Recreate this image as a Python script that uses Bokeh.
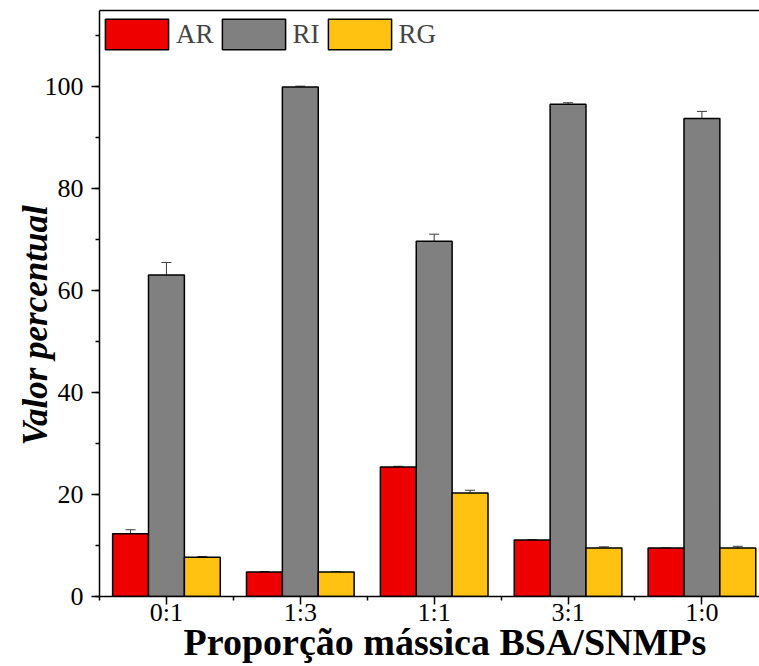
from bokeh.plotting import figure
from bokeh.models import (ColumnDataSource, Whisker, TeeHead, FixedTicker, SingleIntervalTicker,
                          LinearAxis, Range1d, Legend, LegendItem, Title)
from bokeh.transform import dodge
from bokeh.embed import file_html
from bokeh.resources import INLINE

categories = ["0:1", "1:3", "1:1", "3:1", "1:0"]
series = ["AR", "RI", "RG"]
ar = [12.3, 4.8, 25.4, 11.1, 9.5]
ar_err = [0.8, 0.1, 0.15, 0.0, 0.0]
ri = [63.1, 100.0, 69.7, 96.6, 93.8]
ri_err = [2.45, 0.15, 1.4, 0.3, 1.4]
rg = [7.7, 4.8, 20.3, 9.5, 9.5]
rg_err = [0.15, 0.05, 0.55, 0.25, 0.35]

colors = ["#EE0000", "#808080", "#FFC211"]
FONT = "Liberation Serif"
BW = 0.268

xs = list(range(1, len(categories) + 1))
data = dict(x=xs, cat=categories)
for name, v, e in zip(series, [ar, ri, rg], [ar_err, ri_err, rg_err]):
    data[name] = v
    data[name + "_up"] = [a + b for a, b in zip(v, e)]
    data[name + "_lo"] = [a - b for a, b in zip(v, e)]
src = ColumnDataSource(data)

p = figure(width=759, height=666, output_backend="svg", toolbar_location=None,
           x_range=Range1d(0.5, 5.43), y_range=Range1d(0, 115),
           min_border_left=99, min_border_right=0, min_border_top=10, min_border_bottom=70)
p.outline_line_color = None
p.grid.visible = False
p.background_fill_color = "white"

items = []
offsets = [-BW, 0.0, BW]
for name, c, off in zip(series, colors, offsets):
    r = p.vbar(x=dodge("x", off, range=p.x_range), top=name, width=BW, source=src,
               fill_color=c, line_color="black", line_width=1.5)
    items.append(LegendItem(label=name, renderers=[r]))
for name, off in zip(series, offsets):
    w = Whisker(base=dodge("x", off, range=p.x_range), upper=name + "_up", lower=name + "_lo", source=src,
                line_color="#3a3a3a", line_width=1,
                upper_head=TeeHead(size=10, line_color="#3a3a3a", line_width=1),
                lower_head=TeeHead(size=10, line_color="#3a3a3a", line_width=1))
    p.add_layout(w)

legend = Legend(items=items, orientation="horizontal", location=(-2, 543),
                margin=0, padding=0, spacing=0, label_standoff=0,
                glyph_width=79, glyph_height=38,
                label_text_font=FONT, label_text_font_size="27px",
                background_fill_alpha=0, border_line_color=None)
p.add_layout(legend)

# x axis
xa = p.xaxis[0]
xa.ticker = FixedTicker(ticks=xs, minor_ticks=[x - 0.5 for x in xs])
xa.major_label_overrides = {x: c for x, c in zip(xs, categories)}
xa.major_label_text_font = FONT
xa.major_label_text_font_size = "26px"
xa.major_label_standoff = -7

# y axis
ya = p.yaxis[0]
ya.ticker = SingleIntervalTicker(interval=20, num_minor_ticks=2)
ya.major_label_text_font = FONT
ya.major_label_text_font_size = "26px"
ya.major_label_standoff = 8

for ax in [xa, ya]:
    ax.axis_line_color = "black"
    ax.axis_line_width = 1.5
    ax.major_tick_line_color = "black"
    ax.minor_tick_line_color = "black"
    ax.major_tick_line_width = 1.5
    ax.minor_tick_line_width = 1.5
    ax.major_tick_out = 8
    ax.major_tick_in = 0
    ax.minor_tick_out = 4
    ax.minor_tick_in = 0
    ax.major_label_text_color = "black"

xtitle = Title(text="Proporção mássica BSA/SNMPs", align="left", offset=84,
               vertical_align="top",
               text_font=FONT, text_font_style="bold", text_font_size="38px",
               text_color="black", standoff=-18)
p.add_layout(xtitle, "below")

ytitle = Title(text="Valor percentual", align="left", offset=151,
               text_font=FONT, text_font_style="bold italic", text_font_size="35px",
               text_color="black", standoff=-26)
p.add_layout(ytitle, "left")

top = LinearAxis(ticker=FixedTicker(ticks=[]), major_label_text_font_size="0px",
                 axis_line_color="black", axis_line_width=1.5,
                 major_tick_line_color=None, minor_tick_line_color=None)
p.add_layout(top, "above")

open("out.html", "w").write(file_html(p, INLINE))
